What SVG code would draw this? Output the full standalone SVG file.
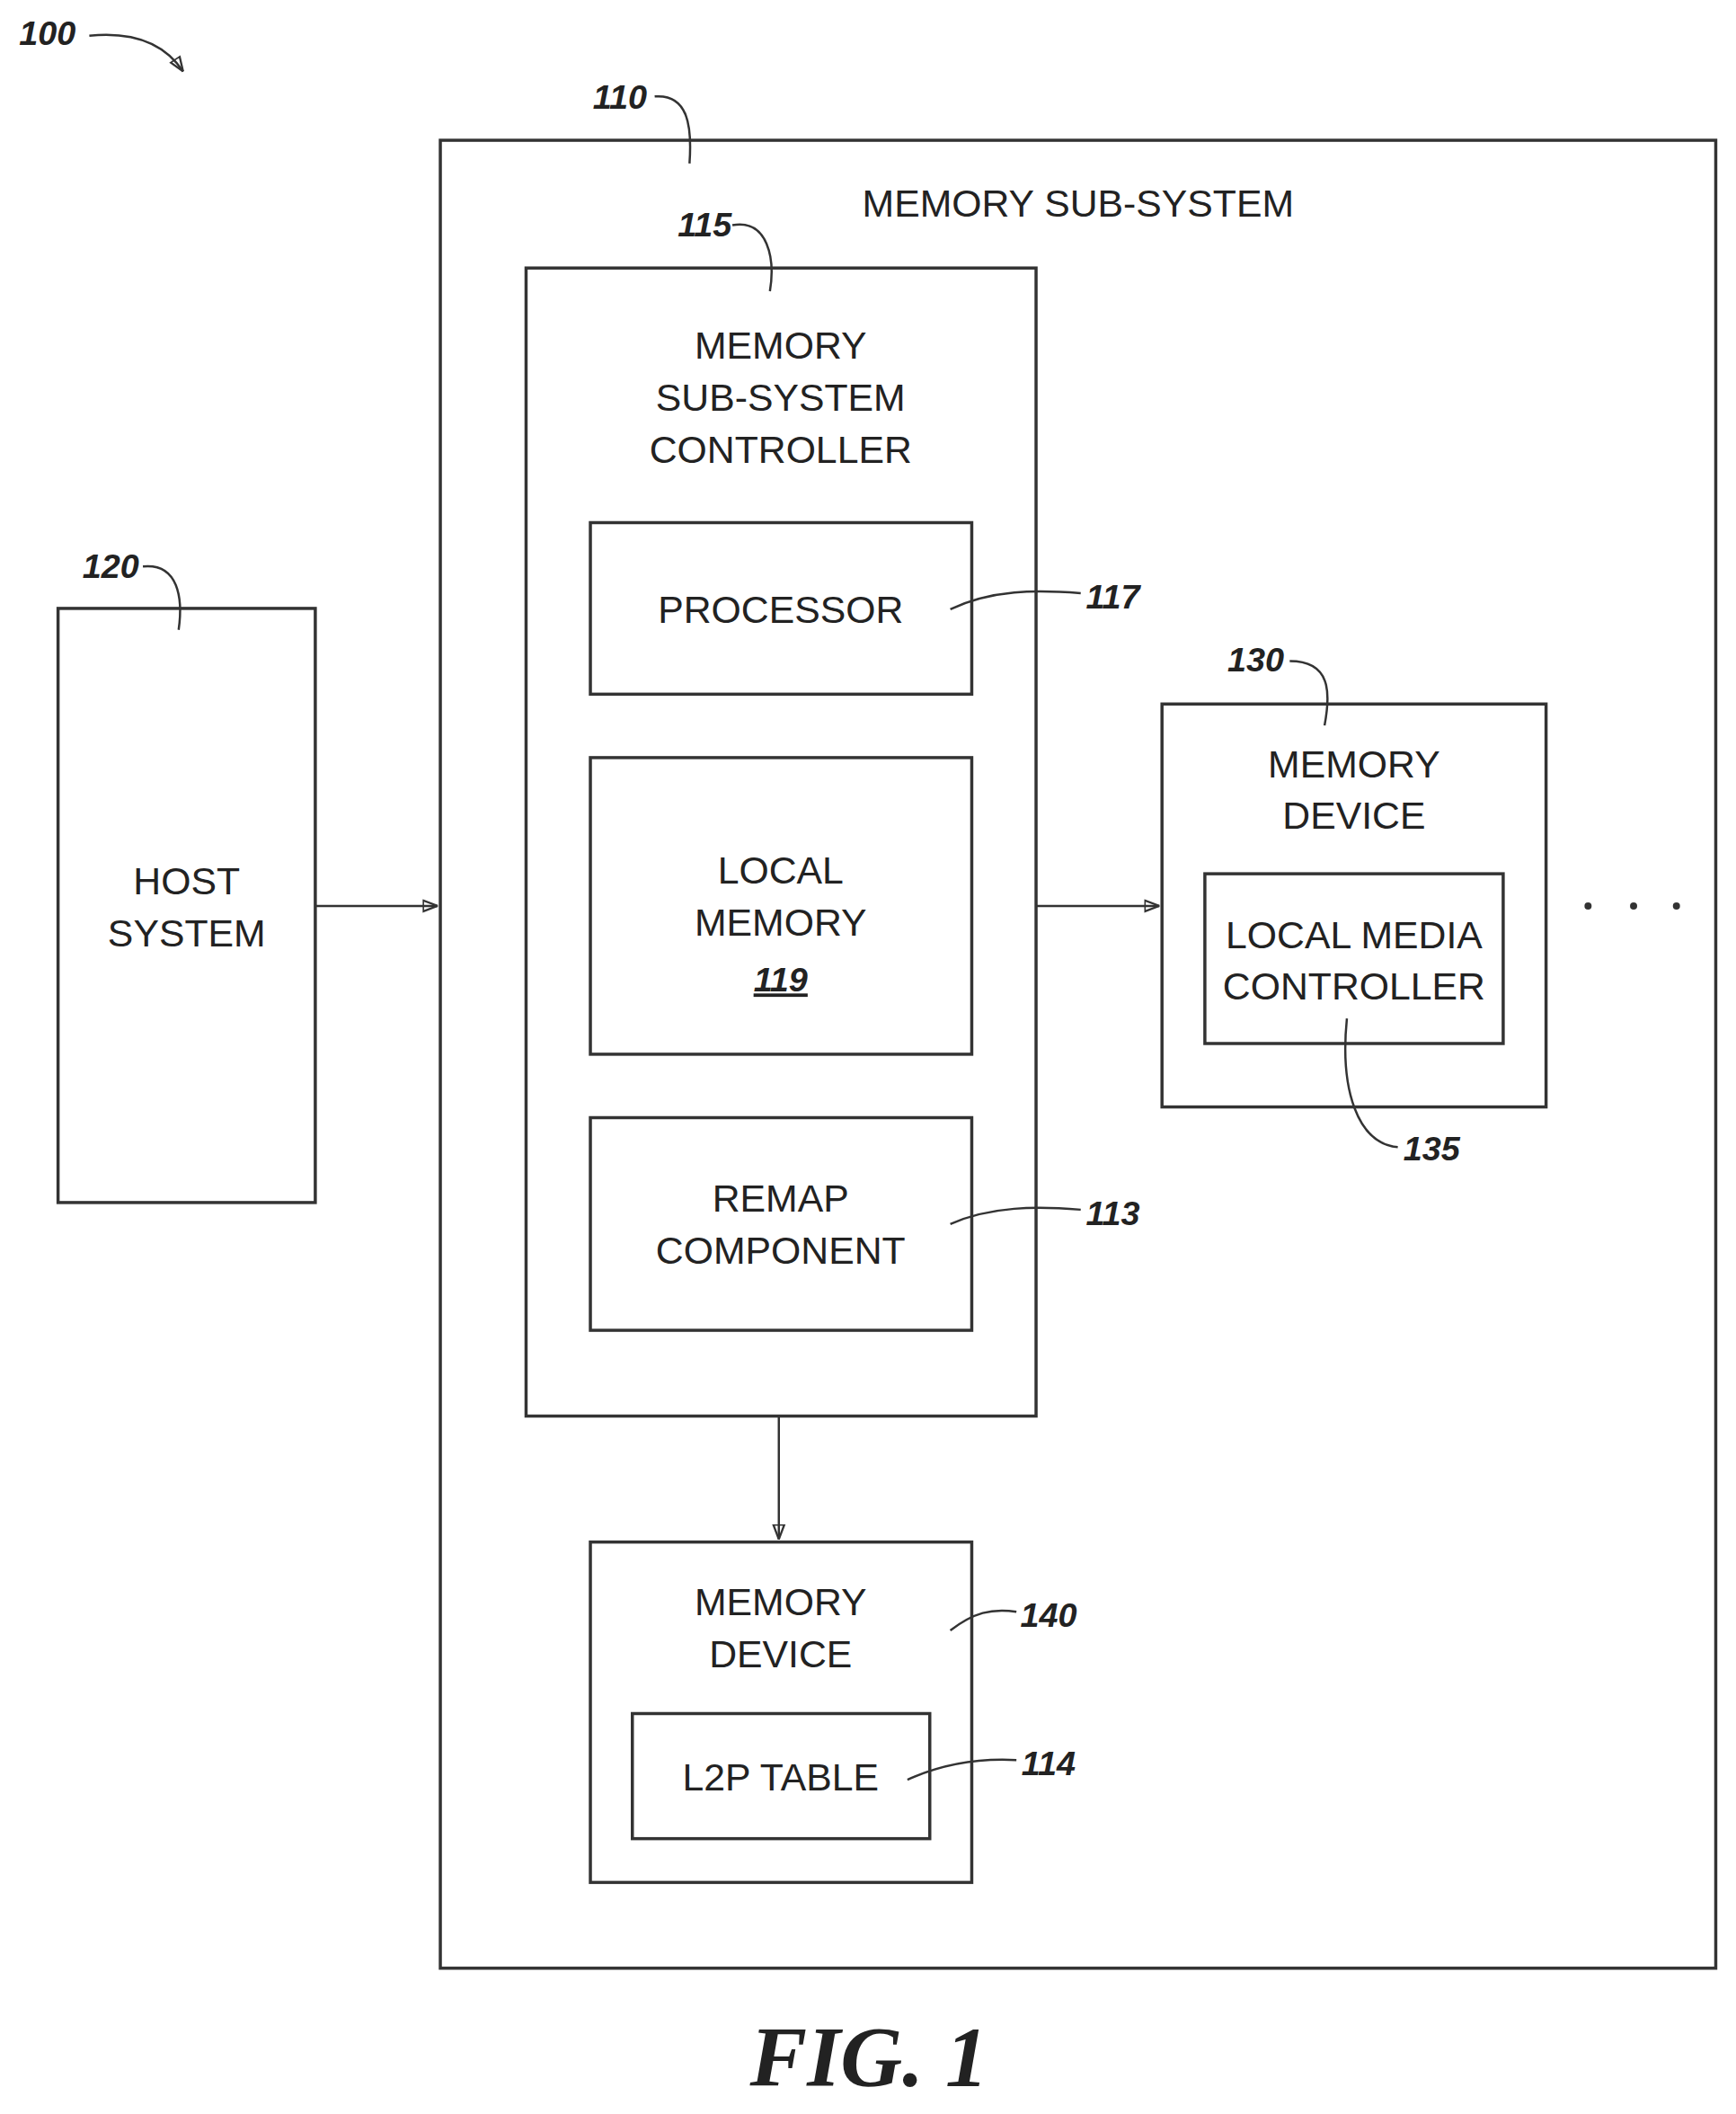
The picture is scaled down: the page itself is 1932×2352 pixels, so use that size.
<svg xmlns="http://www.w3.org/2000/svg" width="1932" height="2352" viewBox="0 0 1932 2352">
<defs>
<style>
.b{fill:none;stroke:#333;stroke-width:3.5}
.t{font-family:"Liberation Sans",Arial,sans-serif;font-size:43px;fill:#222;text-anchor:middle}
.r{font-family:"Liberation Sans",Arial,sans-serif;font-size:38px;font-style:italic;font-weight:bold;fill:#222;text-anchor:middle}
.l{fill:none;stroke:#333;stroke-width:2.5}
</style>
<marker id="a" viewBox="0 0 10 10" refX="10" refY="5" markerWidth="8" markerHeight="8" orient="auto" markerUnits="userSpaceOnUse" style="overflow:visible"><path d="M0,0 L20,5 L0,10 Z" transform="translate(-10,-2.5) scale(1,1.5)" fill="none" stroke="#333" stroke-width="2"/></marker>
</defs>
<rect width="1932" height="2352" fill="#fff"/>
<g transform="scale(0.994)">
<g id="n110"><rect class="b" x="493" y="157" width="1428" height="2046"/><text class="t" x="1207" y="242">MEMORY SUB-SYSTEM</text></g>
<g id="n115"><rect class="b" x="589" y="300" width="571" height="1285"/><text class="t" x="874" y="401">MEMORY</text><text class="t" x="874" y="460">SUB-SYSTEM</text><text class="t" x="874" y="518">CONTROLLER</text></g>
<g id="n117"><rect class="b" x="661" y="585" width="427" height="192"/><text class="t" x="874" y="697">PROCESSOR</text></g>
<g id="n119"><rect class="b" x="661" y="848" width="427" height="332"/><text class="t" x="874" y="989">LOCAL</text><text class="t" x="874" y="1047">MEMORY</text><text class="r" x="874" y="1110" style="text-decoration:underline">119</text></g>
<g id="n113"><rect class="b" x="661" y="1251" width="427" height="238"/><text class="t" x="874" y="1356">REMAP</text><text class="t" x="874" y="1415">COMPONENT</text></g>
<g id="n120"><rect class="b" x="65" y="681" width="288" height="665"/><text class="t" x="209" y="1001">HOST</text><text class="t" x="209" y="1059">SYSTEM</text></g>
<g id="n130"><rect class="b" x="1301" y="788" width="430" height="451"/><text class="t" x="1516" y="870">MEMORY</text><text class="t" x="1516" y="928">DEVICE</text></g>
<g id="n135"><rect class="b" x="1349" y="978" width="334" height="190"/><text class="t" x="1516" y="1061">LOCAL MEDIA</text><text class="t" x="1516" y="1119">CONTROLLER</text></g>
<g id="n140"><rect class="b" x="661" y="1726" width="427" height="381"/><text class="t" x="874" y="1808">MEMORY</text><text class="t" x="874" y="1866">DEVICE</text></g>
<g id="n114"><rect class="b" x="708" y="1918" width="333" height="140"/><text class="t" x="874" y="2004">L2P TABLE</text></g>
<g id="connectors">
<line class="l" x1="353" y1="1014" x2="490" y2="1014" marker-end="url(#a)"/>
<line class="l" x1="1160" y1="1014" x2="1298" y2="1014" marker-end="url(#a)"/>
<line class="l" x1="872" y1="1585" x2="872" y2="1723" marker-end="url(#a)"/>
<path class="l" d="M100,40 C150,35 185,50 205,80" marker-end="url(#a)"/>
<path class="l" d="M733,108 C770,105 775,140 772,183"/>
<path class="l" d="M820,252 C860,245 868,290 862,326"/>
<path class="l" d="M160,634 C200,630 205,670 200,705"/>
<path class="l" d="M1064,682 C1110,660 1160,660 1210,664"/>
<path class="l" d="M1444,740 C1490,740 1490,775 1483,812"/>
<path class="l" d="M1508,1140 C1500,1220 1520,1280 1565,1284"/>
<path class="l" d="M1064,1370 C1110,1350 1160,1350 1210,1354"/>
<path class="l" d="M1064,1825 C1090,1805 1110,1800 1138,1804"/>
<path class="l" d="M1016,1992 C1060,1972 1100,1968 1138,1970"/>
</g>
<g id="dots" fill="#333"><circle cx="1778" cy="1014" r="4"/><circle cx="1829" cy="1014" r="4"/><circle cx="1877" cy="1014" r="4"/></g>
<g id="labels">
<text class="r" x="53" y="50">100</text>
<text class="r" x="694" y="122">110</text>
<text class="r" x="789" y="265">115</text>
<text class="r" x="124" y="647">120</text>
<text class="r" x="1246" y="681">117</text>
<text class="r" x="1406" y="752">130</text>
<text class="r" x="1603" y="1299">135</text>
<text class="r" x="1246" y="1371">113</text>
<text class="r" x="1174" y="1821">140</text>
<text class="r" x="1174" y="1987">114</text>
<text x="973" y="2335" style="font-family:'Liberation Serif',serif;font-size:96px;font-style:italic;font-weight:bold;fill:#222;text-anchor:middle">FIG. 1</text>
</g>
</g>
</svg>
